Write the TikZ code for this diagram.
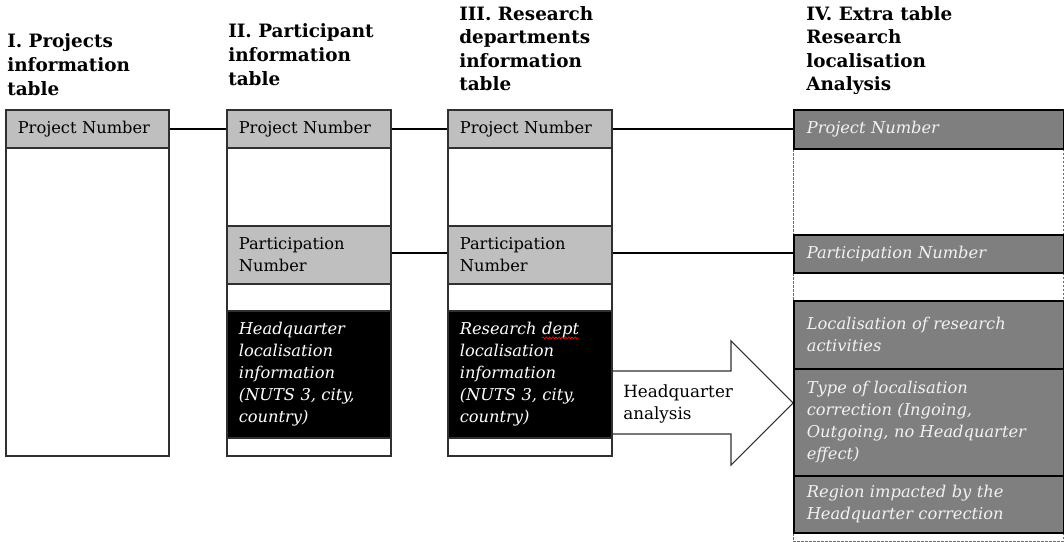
\documentclass[tikz,border=0pt]{standalone}
\usepackage{fontspec}
\setmainfont{DejaVu Serif}
\usetikzlibrary{decorations.pathmorphing}
\definecolor{hdrgray}{HTML}{BFBFBF}
\definecolor{anagray}{HTML}{7F7F7F}
\definecolor{paletext}{HTML}{F2F2F2}
\definecolor{rulegray}{HTML}{303030}
\newcommand\cellfont{\fontsize{12.2}{16.5}\selectfont}
\newcommand\labelfont{\fontsize{12.6}{16.5}\selectfont}
\newcommand\tabtitlefont{\fontsize{13.8}{17.7}\selectfont\bfseries}
% red wavy underline, as a spell checker draws it
\newsavebox\wavebox
\newcommand\spellwave[1]{\sbox\wavebox{#1}%
  \rlap{\tikz[overlay]\draw[red, line width=0.5pt, decorate,
     decoration={snake, amplitude=0.7pt, segment length=2.4pt}]
     (0pt,-2.4pt) -- (\wd\wavebox,-2.4pt);}\usebox\wavebox}
\begin{document}
\begin{tikzpicture}[x=0.75pt,y=-0.75pt,
  every node/.style={inner sep=0pt},
  cell/.style={rectangle, anchor=north west, draw=rulegray, line width=1.2pt,
    inner xsep=9pt, inner ysep=0pt, align=left,
    text width=105pt, minimum width=123pt, font=\cellfont},
  narrow/.style={text width=104.25pt, minimum width=122.25pt},
  wide/.style={inner xsep=9.75pt, text width=183pt, minimum width=202.5pt},
  hdrfill/.style={fill=hdrgray},
  darkfill/.style={fill=black, text=white, font=\cellfont\itshape},
  anafill/.style={fill=anagray, draw=black, text=paletext, font=\cellfont\itshape},
  tabtitle/.style={anchor=base west, align=left, font=\tabtitlefont},
  link/.style={line width=1.4pt, black},
  bigarrow/.style={draw=rulegray, line width=0.8pt, fill=white, line join=miter},
]
\useasboundingbox (0,0) rectangle (1064,542);

% column titles (placed by the baseline of their last line)
\node[tabtitle] (t1) at (7,95) {I. Projects\\information\\table};
\node[tabtitle] (t2) at (228,85) {II. Participant\\information\\table};
\node[tabtitle] (t3) at (459,91) {III. Research\\departments\\information\\table};
\node[tabtitle] (t4) at (806,91) {IV. Extra table\\Research\\localisation\\Analysis};

% block arrow between tables III and IV
\draw[bigarrow] (611,371) -- (731,371) -- (731,341) -- (793,403) -- (731,465)
  -- (731,434) -- (611,434) -- cycle;
\node[anchor=base west, align=left, font=\labelfont] (hq) at (623,419) {Headquarter\\analysis};

% table I
\node[cell, narrow, hdrfill, minimum height=28.5pt] (i-pn) at (5,109) {Project Number};
\node[cell, narrow, minimum height=231pt] (i-body) at (5,147) {};

% table II
\node[cell, hdrfill, minimum height=28.5pt] (ii-pn) at (226,109) {Project Number};
\node[cell, minimum height=58.5pt] (ii-b1) at (226,147) {};
\node[cell, hdrfill, minimum height=43.5pt] (ii-par) at (226,225) {Participation\\Number};
\node[cell, minimum height=20.25pt] (ii-b2) at (226,283) {};
\node[cell, darkfill, minimum height=95.25pt] (ii-loc) at (226,310)
  {Headquarter\\localisation\\information\\(NUTS 3, city,\\country)};
\node[cell, minimum height=13.5pt] (ii-b3) at (226,437) {};

% table III
\node[cell, hdrfill, minimum height=28.5pt] (iii-pn) at (447,109) {Project Number};
\node[cell, minimum height=58.5pt] (iii-b1) at (447,147) {};
\node[cell, hdrfill, minimum height=43.5pt] (iii-par) at (447,225) {Participation\\Number};
\node[cell, minimum height=20.25pt] (iii-b2) at (447,283) {};
\node[cell, darkfill, minimum height=95.25pt] (iii-loc) at (447,310)
  {Research \spellwave{dept}\\localisation\\information\\(NUTS 3, city,\\country)};
\node[cell, minimum height=13.5pt] (iii-b3) at (447,437) {};

% table IV: dashed frame, shaded rows
\node[cell, wide, draw=rulegray!70, line width=0.6pt, dash pattern=on 2pt off 1pt,
  minimum height=324pt] (iv-frame) at (793,109) {};
\node[cell, wide, anafill, minimum height=29.25pt] (iv-pn) at (793,109) {Project Number};
\node[cell, wide, anafill, minimum height=28.5pt] (iv-par) at (793,234) {Participation Number};
\node[cell, wide, anafill, minimum height=51pt] (iv-loc) at (793,300)
  {Localisation of research\\activities};
\node[cell, wide, anafill, minimum height=80.25pt] (iv-type) at (793,368)
  {Type of localisation\\correction (Ingoing,\\Outgoing, no Headquarter\\effect)};
\node[cell, wide, anafill, minimum height=42.75pt] (iv-reg) at (793,475)
  {Region impacted by the\\Headquarter correction};

% key links between tables
\draw[link] (i-pn.east) -- (ii-pn.west);
\draw[link] (ii-pn.east) -- (iii-pn.west);
\draw[link] (iii-pn.east) -- (iii-pn.east -| iv-pn.west);
\draw[link] ([yshift=1.5pt]ii-par.east) -- ([yshift=1.5pt]iii-par.west);
\draw[link] ([yshift=1.5pt]iii-par.east) -- ([yshift=1.5pt]iii-par.east -| iv-par.west);
\end{tikzpicture}
\end{document}
